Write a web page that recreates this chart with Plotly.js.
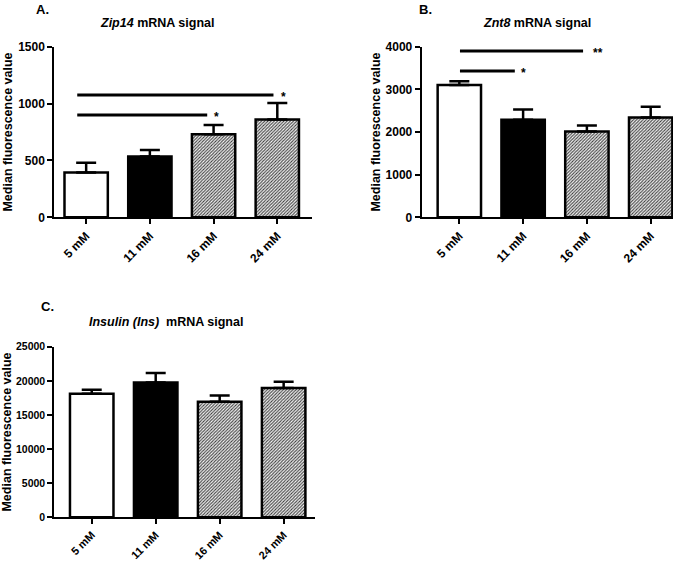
<!DOCTYPE html>
<html>
<head>
<meta charset="utf-8">
<script src="https://cdn.plot.ly/plotly-3.0.1.min.js"></script>
<style>html,body{margin:0;padding:0;background:#fff;}#chart{width:685px;height:563px;}</style>
</head>
<body>
<div id="chart"></div>
<script>
// ---- data ----
var categories = ['5 mM', '11 mM', '16 mM', '24 mM'];
var zip14Mean = [395, 535, 730, 860];
var zip14Sem  = [85, 57, 82, 145];
var znt8Mean  = [3100, 2290, 2010, 2340];
var znt8Sem   = [90, 235, 145, 250];
var insMean   = [18100, 19750, 16950, 18950];
var insSem    = [600, 1400, 900, 900];
var HATCH_GREY = 'rgb(166, 166, 166)';
var barFills  = ['white', 'black', HATCH_GREY, HATCH_GREY];
// significance comparisons: [fromIndex, toIndex, yValue, label]
var zip14Sig = [[0, 3, 1075, '*'], [0, 2, 900, '*']];
var znt8Sig  = [[0, 2, 3900, '**'], [0, 1, 3430, '*']];

var FONT = 'Liberation Sans, Arial, Helvetica, sans-serif';

function barTrace(means, sems, xa, ya) {
  return {
    type: 'bar', x: categories, y: means, xaxis: xa, yaxis: ya,
    width: 0.68,
    marker: {color: barFills, line: {color: 'black', width: 2.5}},
    error_y: {type: 'data', symmetric: false, array: sems, arrayminus: sems.map(function(){return 0;}),
              color: 'black', thickness: 2.5, width: 10},
    hoverinfo: 'skip', showlegend: false
  };
}

var data = [
  barTrace(zip14Mean, zip14Sem, 'x', 'y'),
  barTrace(znt8Mean, znt8Sem, 'x2', 'y2'),
  barTrace(insMean, insSem, 'x3', 'y3')
];

function xax(domain, range, fs) {
  return {
    domain: domain, range: range, type: 'category',
    showline: true, linecolor: 'black', linewidth: 2,
    ticks: 'outside', ticklen: 5, tickwidth: 2, tickcolor: 'black',
    tickangle: -45, showgrid: false, zeroline: false, fixedrange: true,
    tickfont: {family: FONT, size: fs, color: 'black', weight: 'bold'}
  };
}
function yax(domain, range, dtick, anchor, standoff, fs) {
  return {
    domain: domain, range: range, dtick: dtick, tick0: 0, anchor: anchor,
    tickformat: 'd',
    showline: true, linecolor: 'black', linewidth: 2,
    ticks: 'outside', ticklen: 5, tickwidth: 2, tickcolor: 'black',
    showgrid: false, zeroline: false, fixedrange: true,
    tickfont: {family: FONT, size: fs, color: 'black', weight: 'bold'},
    title: {text: 'Median fluorescence value', standoff: standoff,
            font: {family: FONT, size: 12.5, color: 'black', weight: 'bold'}}
  };
}

var shapes = [];
var annotations = [];
function addSig(list, xref, yref, offs) {
  list.forEach(function(s, k) {
    var o = offs[k];
    shapes.push({type: 'line', xref: xref, yref: yref,
      x0: s[0] + o[0], x1: s[1] + o[1], y0: s[2], y1: s[2],
      line: {color: 'black', width: 3}});
    annotations.push({xref: xref, yref: yref, x: s[1] + o[1] + o[2], y: s[2],
      text: '<b>' + s[3] + '</b>', showarrow: false, xanchor: 'left', yanchor: 'middle', yshift: -2,
      font: {family: FONT, size: 12, color: 'black'}});
  });
}
addSig(zip14Sig, 'x', 'y', [[-0.14, -0.06, 0.08], [-0.14, -0.1, 0.08]]);
addSig(znt8Sig, 'x2', 'y2', [[0.01, -0.06, 0.12], [0.01, -0.13, 0.06]]);

function label(x, y, txt, size) {
  annotations.push({xref: 'paper', yref: 'paper', x: x / 685, y: 1 - y / 563,
    text: txt, showarrow: false, xanchor: 'center', yanchor: 'middle',
    font: {family: FONT, size: size, color: 'black'}});
}
label(42, 9, '<b>A.</b>', 13);
label(426, 9, '<b>B.</b>', 13);
label(47, 306, '<b>C.</b>', 13);
label(157, 23, '<b><i>Zip14</i> mRNA signal</b>', 12.5);
label(537, 23, '<b><i>Znt8</i> mRNA signal</b>', 12.5);
label(166, 322, '<b><i>Insulin (Ins)</i>  mRNA signal</b>', 12.5);

var layout = {
  width: 685, height: 563,
  margin: {l: 0, r: 0, t: 0, b: 0},
  paper_bgcolor: 'white', plot_bgcolor: 'white',
  xaxis:  xax([54.3 / 685, 311.7 / 685], [-0.5, 3.54], 12),
  yaxis:  yax([1 - 217.3 / 563, 1 - 46.7 / 563], [0, 1500], 500, 'x', 2.5, 12),
  xaxis2: xax([421.7 / 685, 673 / 685], [-0.59, 3.35], 12),
  yaxis2: yax([1 - 217.3 / 563, 1 - 46.7 / 563], [0, 4000], 1000, 'x2', 2.5, 12),
  xaxis3: xax([54.3 / 685, 315 / 685], [-0.585, 3.49], 11),
  yaxis3: yax([1 - 517.3 / 563, 1 - 346.7 / 563], [0, 25000], 5000, 'x3', 2.5, 10.5),
  shapes: shapes,
  annotations: annotations
};
layout.xaxis.anchor = 'y';
layout.xaxis2.anchor = 'y2';
layout.xaxis3.anchor = 'y3';

Plotly.newPlot('chart', data, layout, {staticPlot: true}).then(function() {
  // diagonal hatch for the hatched bars
  var NS = 'http://www.w3.org/2000/svg';
  var svg = document.querySelector('#chart .main-svg');
  var defs = svg.querySelector('defs') || svg.insertBefore(document.createElementNS(NS, 'defs'), svg.firstChild);
  var pat = document.createElementNS(NS, 'pattern');
  pat.setAttribute('id', 'diaghatch');
  pat.setAttribute('patternUnits', 'userSpaceOnUse');
  pat.setAttribute('width', '3.2');
  pat.setAttribute('height', '3.2');
  var bg = document.createElementNS(NS, 'rect');
  bg.setAttribute('width', '3.2'); bg.setAttribute('height', '3.2'); bg.setAttribute('fill', '#f2f2f2');
  pat.appendChild(bg);
  var ln = document.createElementNS(NS, 'path');
  ln.setAttribute('d', 'M-0.8,0.8 L0.8,-0.8 M0,3.2 L3.2,0 M2.4,4 L4,2.4');
  ln.setAttribute('stroke', '#444');
  ln.setAttribute('stroke-width', '1.0');
  pat.appendChild(ln);
  defs.appendChild(pat);
  document.querySelectorAll('#chart .bars .point path').forEach(function(p) {
    if ((p.style.fill || '').replace(/\s/g, '') === HATCH_GREY.replace(/\s/g, '')) {
      p.style.fill = 'url(#diaghatch)';
    }
  });
});
</script>
</body>
</html>
